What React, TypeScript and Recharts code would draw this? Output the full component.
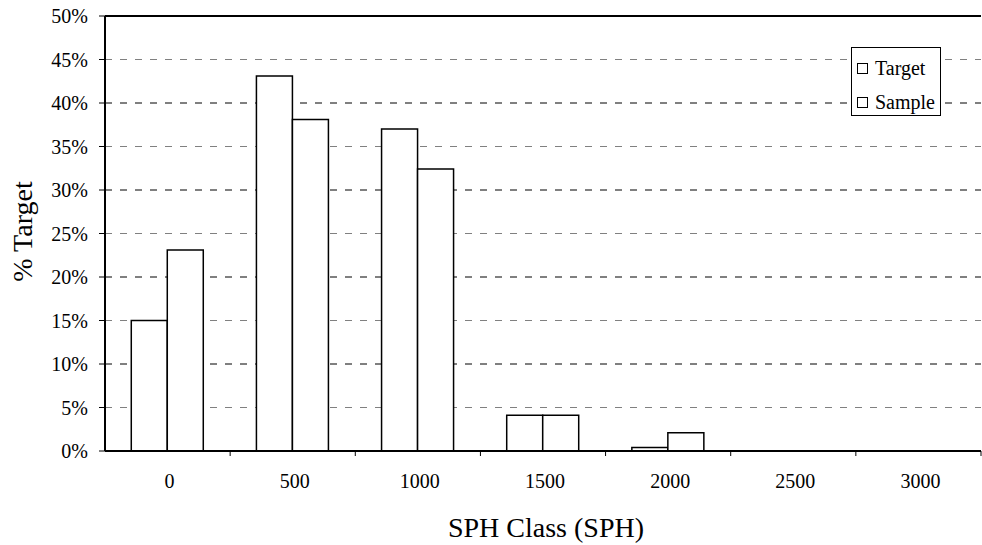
import React from 'react';
import { BarChart, Bar, XAxis, YAxis, CartesianGrid, Legend, ReferenceLine } from 'recharts';

const categories = ['0', '500', '1000', '1500', '2000', '2500', '3000'];
const targetValues = [15, 43.1, 37, 4.1, 0.4, 0, 0];
const sampleValues = [23.1, 38.1, 32.4, 4.1, 2.1, 0, 0];
const seriesNames = ['Target', 'Sample'];
const yTicks = [0, 5, 10, 15, 20, 25, 30, 35, 40, 45, 50];

const data = categories.map((c, i) => ({ name: c, Target: targetValues[i], Sample: sampleValues[i] }));

const FONT = "'Liberation Serif', 'Times New Roman', serif";

const XTick = (props: any) => {
  const { x, y, payload, width, visibleTicksCount } = props;
  const band = width / visibleTicksCount;
  return (
    <g>
      <line x1={x + band / 2} y1={y} x2={x + band / 2} y2={y + 5} stroke="#000" strokeWidth={1} />
      <text x={x + 2} y={y + 37} textAnchor="middle" style={{ fontFamily: FONT }} fontSize={20} fill="#000">
        {payload.value}
      </text>
    </g>
  );
};

const YTick = (props: any) => {
  const { x, y, payload } = props;
  return (
    <text x={x} y={y} dy="0.35em" textAnchor="end" style={{ fontFamily: FONT }} fontSize={20} fill="#000">
      {payload.value + '%'}
    </text>
  );
};

const gridLine = (props: any) => {
  const { x1, x2, y1, y2, index } = props;
  const gray = index % 2 === 1;
  return (
    <line
      key={'g' + index}
      x1={x1}
      x2={x2}
      y1={y1}
      y2={y2}
      stroke={gray ? '#808080' : '#000'}
      strokeWidth={1}
      strokeDasharray="7 8"
    />
  );
};

const renderLegend = () => {
  return (
    <div
      style={{
        border: '1px solid #000',
        background: '#fff',
        width: 90,
        height: 69,
        boxSizing: 'border-box',
        fontFamily: FONT,
        fontSize: 20,
        color: '#000',
        position: 'relative',
      }}
    >
      {seriesNames.map((name, i) => (
        <div
          key={name}
          style={{ position: 'absolute', left: 5, top: 9 + i * 34, height: 22, display: 'flex', alignItems: 'center', whiteSpace: 'nowrap' }}
        >
          <span
            style={{
              display: 'inline-block',
              width: 9,
              height: 9,
              border: '1.5px solid #000',
              background: '#fff',
              marginRight: 7,
            }}
          />
          <span style={{ lineHeight: '22px' }}>{name}</span>
        </div>
      ))}
    </div>
  );
};

const XTitle = (props: any) => {
  const { viewBox } = props;
  return (
    <text
      x={viewBox.x + viewBox.width / 2 + 3}
      y={viewBox.y + 86}
      textAnchor="middle"
      style={{ fontFamily: FONT }}
      fontSize={28}
      fill="#000"
    >
      SPH Class (SPH)
    </text>
  );
};

const YTitle = (props: any) => {
  const { viewBox } = props;
  const cx = viewBox.x + 22;
  const cy = viewBox.y + viewBox.height / 2 - 2;
  return (
    <text
      x={cx}
      y={cy}
      transform={`rotate(-90 ${cx} ${cy})`}
      textAnchor="middle"
      dominantBaseline="central"
      style={{ fontFamily: FONT }}
      fontSize={28}
      fill="#000"
    >
      % Target
    </text>
  );
};

export default function App() {
  return (
    <div style={{ position: 'absolute', left: 0, top: 0, background: '#fff', fontFamily: FONT }}>
      <BarChart
        width={982}
        height={545}
        data={data}
        margin={{ top: 16, right: 1, left: 0, bottom: 0 }}
        barCategoryGap="21%"
        barGap={0}
      >
        <CartesianGrid vertical={false} horizontal={gridLine} />
        <XAxis
          dataKey="name"
          height={94}
          axisLine={{ stroke: '#000', strokeWidth: 2 }}
          tickLine={false}
          tickSize={0}
          tickMargin={0}
          tick={<XTick />}
          interval={0}
          label={<XTitle />}
        />
        <YAxis
          width={105}
          domain={[0, 50]}
          ticks={yTicks}
          allowDataOverflow
          axisLine={{ stroke: '#000', strokeWidth: 2 }}
          tickLine={{ stroke: '#000', strokeWidth: 1 }}
          tickSize={6}
          tickMargin={11}
          tick={<YTick />}
          interval={0}
          label={<YTitle />}
        />
        <ReferenceLine y={50} stroke="#000" strokeWidth={2} />
        <Legend
          layout="vertical"
          verticalAlign="middle"
          align="center"
          content={renderLegend}
          wrapperStyle={{ left: 851, top: 47, width: 90, height: 69, right: 'auto', bottom: 'auto' }}
        />
        <Bar dataKey="Target" fill="#fff" stroke="#000" strokeWidth={1.5} isAnimationActive={false} />
        <Bar dataKey="Sample" fill="#fff" stroke="#000" strokeWidth={1.5} isAnimationActive={false} />
      </BarChart>
    </div>
  );
}
